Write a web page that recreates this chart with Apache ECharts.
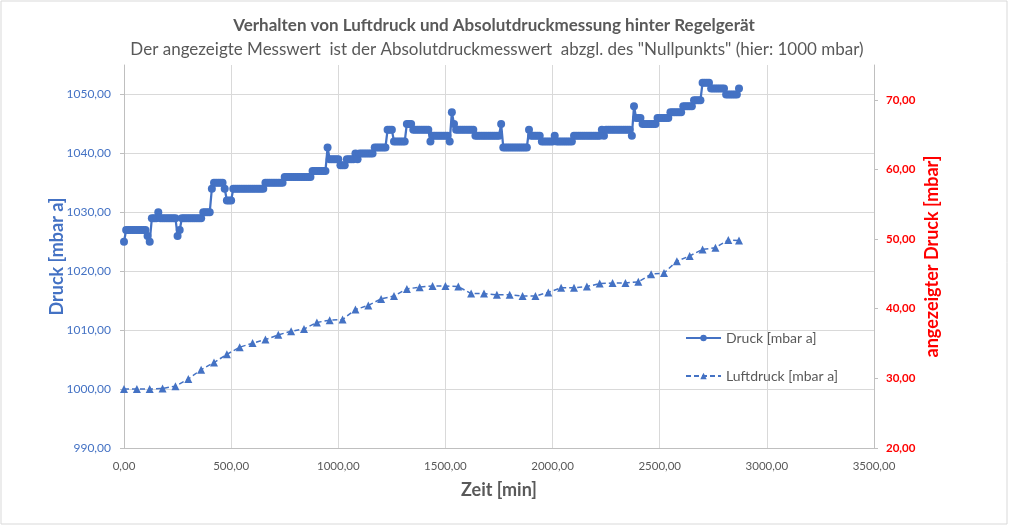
<!DOCTYPE html>
<html>
<head>
<meta charset="utf-8">
<script src="https://cdn.jsdelivr.net/npm/echarts@6/dist/echarts.min.js"></script>
<style>
html,body{margin:0;padding:0;background:#fff;}
#chart{width:1011px;height:527px;}
</style>
</head>
<body>
<div id="chart"></div>
<script>
// ---- Data ----
const titleText = 'Verhalten von Luftdruck und Absolutdruckmessung hinter Regelgerät';
const subtitleText = 'Der angezeigte Messwert  ist der Absolutdruckmesswert  abzgl. des "Nullpunkts" (hier: 1000 mbar)';
const seriesNames = ['Druck [mbar a]', 'Luftdruck [mbar a]'];
const xAxisName = 'Zeit [min]';
const leftAxisName = 'Druck [mbar a]';
const rightAxisName = 'angezeigter Druck [mbar]';

// Druck: sampled every 10 min starting at 0 min
const druckStartMin = 0;
const druckStepMin = 10;
const druckValues = [
  1025,1027,1027,1027,1027,1027,1027,1027,1027,1027, // 0-90
  1027,1026,1025,1029,1029,1029,1030,1029,1029,1029, // 100-190
  1029,1029,1029,1029,1029,1026,1027,1029,1029,1029, // 200-290
  1029,1029,1029,1029,1029,1029,1029,1030,1030,1030, // 300-390
  1030,1034,1035,1035,1035,1035,1035,1034,1032,1032, // 400-490
  1032,1034,1034,1034,1034,1034,1034,1034,1034,1034, // 500-590
  1034,1034,1034,1034,1034,1034,1035,1035,1035,1035, // 600-690
  1035,1035,1035,1035,1035,1036,1036,1036,1036,1036, // 700-790
  1036,1036,1036,1036,1036,1036,1036,1036,1037,1037, // 800-890
  1037,1037,1037,1037,1037,1041,1039,1039,1039,1039, // 900-990
  1039,1038,1038,1038,1039,1039,1039,1039,1040,1039, // 1000-1090
  1040,1040,1040,1040,1040,1040,1040,1041,1041,1041, // 1100-1190
  1041,1041,1041,1044,1044,1044,1042,1042,1042,1042, // 1200-1290
  1042,1042,1045,1045,1045,1044,1044,1044,1044,1044, // 1300-1390
  1044,1044,1044,1042,1043,1043,1043,1043,1043,1043, // 1400-1490
  1043,1043,1042,1047,1045,1044,1044,1044,1044,1044, // 1500-1590
  1044,1044,1044,1044,1043,1043,1043,1043,1043,1043, // 1600-1690
  1043,1043,1043,1043,1043,1043,1045,1041,1041,1041, // 1700-1790
  1041,1041,1041,1041,1041,1041,1041,1041,1041,1044, // 1800-1890
  1043,1043,1043,1043,1043,1042,1042,1042,1042,1042, // 1900-1990
  1042,1043,1042,1042,1042,1042,1042,1042,1042,1042, // 2000-2090
  1043,1043,1043,1043,1043,1043,1043,1043,1043,1043, // 2100-2190
  1043,1043,1043,1044,1043,1044,1044,1044,1044,1044, // 2200-2290
  1044,1044,1044,1044,1044,1044,1044,1043,1048,1046, // 2300-2390
  1046,1046,1045,1045,1045,1045,1045,1045,1045,1046, // 2400-2490
  1046,1046,1046,1046,1046,1047,1047,1047,1047,1047, // 2500-2590
  1047,1048,1048,1048,1048,1048,1049,1049,1049,1049, // 2600-2690
  1052,1052,1052,1052,1051,1051,1051,1051,1051,1051, // 2700-2790
  1051,1050,1050,1050,1050,1050,1050,1051            // 2800-2870
];

// Luftdruck: hourly readings
const luftTime = [0,60,120,180,240,300,360,420,480,540,600,660,720,780,840,900,960,1020,1080,1140,
  1200,1260,1320,1380,1440,1500,1560,1620,1680,1740,1800,1860,1920,1980,2040,2100,2160,2220,2280,2340,
  2400,2460,2520,2580,2640,2700,2760,2820,2870];
const luftValues = [1000.0,1000.0,1000.0,1000.1,1000.5,1001.7,1003.3,1004.5,1005.9,1007.1,
  1007.8,1008.4,1009.2,1009.8,1010.2,1011.3,1011.7,1011.8,1013.5,1014.2,
  1015.3,1015.8,1017.0,1017.3,1017.5,1017.5,1017.4,1016.2,1016.2,1016.0,
  1016.0,1015.8,1015.8,1016.4,1017.2,1017.2,1017.4,1017.9,1018.0,1018.0,
  1018.2,1019.5,1019.7,1021.7,1022.6,1023.7,1024.0,1025.3,1025.2];

// ---- Build ----
const druckData = druckValues.map((v, i) => [druckStartMin + i * druckStepMin, v]);
const luftData = luftValues.map((v, i) => [luftTime[i], v]);
const fmt = v => v.toFixed(2).replace('.', ',');

const FONT = 'Lato';
const BLUE = '#4472C4';
const GRAY = '#595959';
const chart = echarts.init(document.getElementById('chart'), null, {renderer: 'canvas'});
chart.setOption({
  animation: false,
  backgroundColor: '#ffffff',
  textStyle: {fontFamily: FONT},
  graphic: [{
    type: 'rect', shape: {x: 1, y: 1, width: 1006, height: 523},
    style: {fill: 'none', stroke: '#D9D9D9', lineWidth: 1}, silent: true
  }],
  title: [
    {text: titleText, left: 489, top: 12, textAlign: 'center',
     textStyle: {fontFamily: FONT, fontSize: 17, fontWeight: 'bold', color: GRAY}},
    {text: subtitleText, left: 492, top: 36, textAlign: 'center',
     textStyle: {fontFamily: FONT, fontSize: 17, fontWeight: 'normal', color: GRAY}}
  ],
  legend: {
    orient: 'vertical', left: 680, top: 326, itemWidth: 35, itemHeight: 8, itemGap: 24,
    textStyle: {fontFamily: FONT, fontSize: 14, color: GRAY},
    data: seriesNames
  },
  grid: {left: 124, right: 137, top: 65, bottom: 79, containLabel: false},
  xAxis: {
    type: 'value', min: 0, max: 3500, interval: 500,
    name: xAxisName, nameLocation: 'middle', nameGap: 33, nameMoveOverlap: false,
    nameTextStyle: {fontFamily: FONT, fontSize: 18, fontWeight: 'bold', color: GRAY},
    axisLine: {show: true, lineStyle: {color: '#BFBFBF', width: 1}},
    axisTick: {show: false},
    axisLabel: {formatter: fmt, color: GRAY, fontSize: 11.5, margin: 12, fontFamily: FONT},
    splitLine: {show: true, lineStyle: {color: '#D9D9D9', width: 1}}
  },
  yAxis: [
    {
      type: 'value', position: 'left', min: 990, max: 1055, interval: 10,
      name: leftAxisName, nameLocation: 'middle', nameGap: 58, nameMoveOverlap: false,
      nameTextStyle: {fontFamily: FONT, fontSize: 18, fontWeight: 'bold', color: BLUE},
      axisLine: {show: true, lineStyle: {color: '#BFBFBF', width: 1}},
      axisTick: {show: true, length: 4, lineStyle: {color: '#BFBFBF'}},
      axisLabel: {formatter: fmt, color: BLUE, fontSize: 12, margin: 13, showMaxLabel: false, fontFamily: FONT},
      splitLine: {show: true, showMaxLine: false, lineStyle: {color: '#D9D9D9', width: 1}}
    },
    {
      type: 'value', position: 'right', min: 20, max: 75, interval: 10,
      name: rightAxisName, nameLocation: 'middle', nameGap: 49, nameMoveOverlap: false,
      nameTextStyle: {fontFamily: FONT, fontSize: 18, fontWeight: 'bold', color: '#FF0000'},
      axisLine: {show: true, lineStyle: {color: '#BFBFBF', width: 1}},
      axisTick: {show: true, length: 4, lineStyle: {color: '#BFBFBF'}},
      axisLabel: {formatter: fmt, color: '#FF0000', fontSize: 11.5, fontWeight: 'bold', margin: 12, showMaxLabel: false, fontFamily: FONT},
      splitLine: {show: false}
    }
  ],
  series: [
    {
      name: seriesNames[0], type: 'line', yAxisIndex: 0, data: druckData,
      symbol: 'circle', symbolSize: 8, showAllSymbol: true,
      itemStyle: {color: BLUE},
      lineStyle: {color: BLUE, width: 2.25}
    },
    {
      name: seriesNames[1], type: 'line', yAxisIndex: 0, data: luftData,
      symbol: 'triangle', symbolSize: 8, showAllSymbol: true,
      itemStyle: {color: BLUE},
      lineStyle: {color: BLUE, width: 1.5, type: [5, 3]}
    }
  ]
});
</script>
</body>
</html>
